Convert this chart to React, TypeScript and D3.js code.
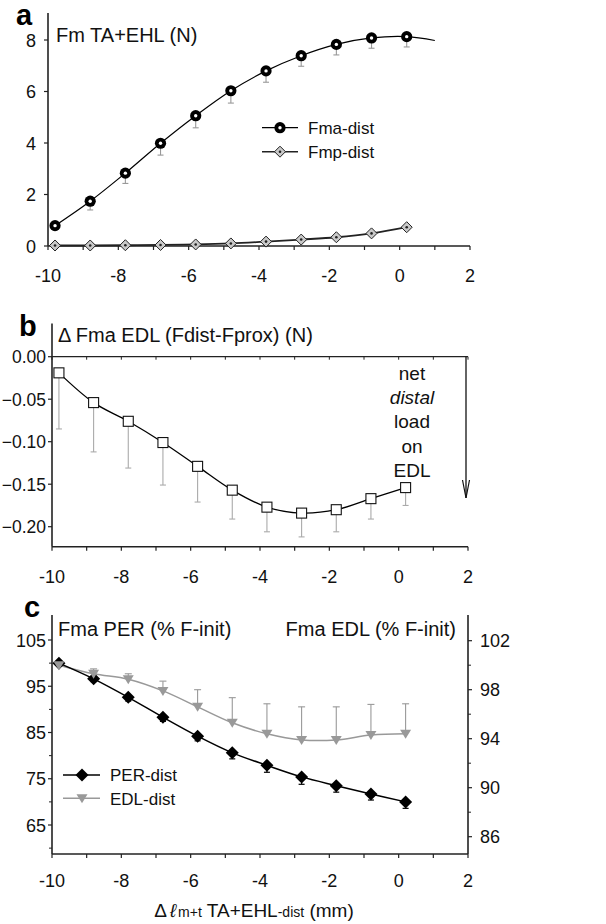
import React from "react";
import * as d3 from "d3";

// ---------- data ----------
const xPos = [-9.8, -8.8, -7.8, -6.8, -5.8, -4.8, -3.8, -2.8, -1.8, -0.8, 0.2];
const xTicks = [-10, -8, -6, -4, -2, 0, 2];
const xMinor = [-10, -9, -8, -7, -6, -5, -4, -3, -2, -1, 0, 1, 2];

// panel a
const fmaDist = [0.79, 1.74, 2.83, 3.99, 5.06, 6.03, 6.8, 7.39, 7.83, 8.08, 8.13];
const fmaErr = [0.12, 0.34, 0.4, 0.46, 0.47, 0.48, 0.44, 0.41, 0.41, 0.4, 0.4];
const fmaTailX = [1.0];
const fmaTailY = [7.98];
const fmpDist = [0.02, 0.02, 0.03, 0.04, 0.06, 0.1, 0.17, 0.25, 0.34, 0.49, 0.73];
const aYTicks = [0, 2, 4, 6, 8];

// panel b
const deltaFma = [-0.019, -0.054, -0.076, -0.101, -0.129, -0.157, -0.177, -0.184, -0.18, -0.167, -0.154];
const deltaErr = [0.066, 0.058, 0.055, 0.05, 0.042, 0.034, 0.029, 0.028, 0.026, 0.024, 0.021];
const bYTicks = [0, -0.05, -0.1, -0.15, -0.2];
const noteLines = ["net", "distal", "load", "on", "EDL"];

// panel c
const perDist = [100.0, 96.6, 92.6, 88.3, 84.2, 80.6, 77.9, 75.4, 73.5, 71.7, 70.0];
const perErr = [0.3, 0.6, 0.8, 0.9, 1.0, 1.3, 1.5, 1.6, 1.4, 1.3, 1.4];
const edlDist = [100.0, 99.3, 98.85, 97.9, 96.6, 95.3, 94.4, 93.9, 93.9, 94.3, 94.4];
const edlErr = [0.1, 0.4, 0.45, 0.8, 1.4, 2.05, 2.45, 2.7, 2.7, 2.5, 2.45];
const cLeftTicks = [105, 95, 85, 75, 65];
const cLeftMinor = [100, 90, 80, 70, 60];
const cRightTicks = [102, 98, 94, 90, 86];
const cRightMinor = [100, 96, 92, 88];

const FONT = "'Liberation Sans', Arial, Helvetica, sans-serif";
const AXIS = "#222";

function XAxis({ x, y, ticks, minor, labelY, fs = 18 }: any) {
  const [r0, r1] = x.range();
  return (
    <g>
      <line x1={r0} x2={r1} y1={y} y2={y} stroke={AXIS} strokeWidth={1.6} />
      {minor.map((t: number) => (
        <line key={"m" + t} x1={x(t)} x2={x(t)} y1={y} y2={y + 4} stroke={AXIS} strokeWidth={1.2} />
      ))}
      {ticks.map((t: number) => (
        <text key={t} x={x(t)} y={labelY} textAnchor="middle" fontSize={fs} fontFamily={FONT} fill="#111">
          {t}
        </text>
      ))}
    </g>
  );
}

export default function App() {
  // ---------- panel a ----------
  const xa = d3.scaleLinear().domain([-10, 2]).range([48, 470]);
  const ya = d3.scaleLinear().domain([0, 8]).range([246, 40]);
  const lineA = d3.line<[number, number]>().x((d) => xa(d[0])).y((d) => ya(d[1])).curve(d3.curveCatmullRom.alpha(0.5));
  const fmaPts: [number, number][] = xPos.map((x, i) => [x, fmaDist[i]] as [number, number]).concat(
    fmaTailX.map((x, i) => [x, fmaTailY[i]] as [number, number])
  );
  const fmpPts: [number, number][] = xPos.map((x, i) => [x, fmpDist[i]]);

  // ---------- panel b ----------
  const xb = d3.scaleLinear().domain([-10, 2]).range([52, 468]);
  const yb = d3.scaleLinear().domain([0, -0.2]).range([356.7, 526.7]);
  const bBottom = yb(-0.2235);
  const bTop = yb(0.039);
  const lineB = d3.line<[number, number]>().x((d) => xb(d[0])).y((d) => yb(d[1])).curve(d3.curveCatmullRom.alpha(0.5));
  const bPts: [number, number][] = xPos.map((x, i) => [x, deltaFma[i]]);

  // ---------- panel c ----------
  const xc = d3.scaleLinear().domain([-10, 2]).range([52, 468]);
  const ycl = d3.scaleLinear().domain([105, 65]).range([640, 825]);
  const ycr = d3.scaleLinear().domain([102, 86]).range([640.7, 836.7]);
  const cBottom = 854;
  const cTop = 615;
  const linePer = d3.line<[number, number]>().x((d) => xc(d[0])).y((d) => ycl(d[1])).curve(d3.curveCatmullRom.alpha(0.5));
  const lineEdl = d3.line<[number, number]>().x((d) => xc(d[0])).y((d) => ycr(d[1])).curve(d3.curveCatmullRom.alpha(0.5));
  const perPts: [number, number][] = xPos.map((x, i) => [x, perDist[i]]);
  const edlPts: [number, number][] = xPos.map((x, i) => [x, edlDist[i]]);

  const circleMarker = (cx: number, cy: number, k: string) => (
    <g key={k}>
      <circle cx={cx} cy={cy} r={5.6} fill="#000" />
      <circle cx={cx} cy={cy} r={1.7} fill="#fff" />
    </g>
  );
  const diamondGray = (cx: number, cy: number, k: string) => (
    <g key={k}>
      <path d={`M${cx},${cy - 5.5}L${cx + 5.5},${cy}L${cx},${cy + 5.5}L${cx - 5.5},${cy}Z`} fill="#c8c8c8" stroke="#222" strokeWidth={1} />
      <circle cx={cx} cy={cy} r={1.3} fill="#222" />
    </g>
  );
  const diamondBlack = (cx: number, cy: number, k: string) => (
    <path key={k} d={`M${cx},${cy - 6.5}L${cx + 6.5},${cy}L${cx},${cy + 6.5}L${cx - 6.5},${cy}Z`} fill="#000" />
  );
  const triGray = (cx: number, cy: number, k: string) => (
    <path key={k} d={`M${cx - 5.5},${cy - 4}L${cx + 5.5},${cy - 4}L${cx},${cy + 5}Z`} fill="#999" />
  );
  const square = (cx: number, cy: number, k: string) => (
    <rect key={k} x={cx - 5} y={cy - 5} width={10} height={10} fill="#fff" stroke="#111" strokeWidth={1.1} />
  );

  return (
    <svg width={606} height={924} style={{ display: "block", position: "absolute", left: 0, top: 0, background: "#fff" }}>
      <rect x={0} y={0} width={606} height={924} fill="#fff" />
      {/* ================= panel a ================= */}
      <text x={16} y={25} fontSize={29} fontWeight="bold" fontFamily={FONT}>a</text>
      <text x={56} y={41.5} fontSize={20} fontFamily={FONT} fill="#111">Fm TA+EHL (N)</text>
      <line x1={xa(-10)} x2={xa(-10)} y1={ya(0)} y2={13} stroke={AXIS} strokeWidth={1.6} />
      {aYTicks.map((t) => (
        <g key={t}>
          <line x1={xa(-10) - 4} x2={xa(-10)} y1={ya(t)} y2={ya(t)} stroke={AXIS} strokeWidth={1.2} />
          <text x={36} y={ya(t) + 6.5} textAnchor="end" fontSize={18} fontFamily={FONT} fill="#111">{t}</text>
        </g>
      ))}
      <XAxis x={xa} y={ya(0)} ticks={xTicks} minor={xMinor} labelY={282} />
      {/* error bars a */}
      {xPos.map((x, i) => (
        <g key={"ea" + i} stroke="#999" strokeWidth={1.1}>
          <line x1={xa(x)} x2={xa(x)} y1={ya(fmaDist[i])} y2={ya(fmaDist[i] - fmaErr[i])} />
          <line x1={xa(x) - 3} x2={xa(x) + 3} y1={ya(fmaDist[i] - fmaErr[i])} y2={ya(fmaDist[i] - fmaErr[i])} />
        </g>
      ))}
      <path d={lineA(fmpPts) || ""} fill="none" stroke="#222" strokeWidth={1.8} />
      <path d={lineA(fmaPts) || ""} fill="none" stroke="#000" strokeWidth={1.2} />
      {fmpPts.map((p, i) => diamondGray(xa(p[0]), ya(p[1]), "dp" + i))}
      {xPos.map((x, i) => circleMarker(xa(x), ya(fmaDist[i]), "ca" + i))}
      {/* legend a */}
      <line x1={262} x2={298} y1={127.7} y2={127.7} stroke="#000" strokeWidth={1.2} />
      {circleMarker(280, 127.7, "lga")}
      <text x={308} y={134} fontSize={17} fontFamily={FONT} fill="#111">Fma-dist</text>
      <line x1={262} x2={298} y1={151.7} y2={151.7} stroke="#222" strokeWidth={1.5} />
      {diamondGray(280, 151.7, "lgb")}
      <text x={308} y={158} fontSize={17} fontFamily={FONT} fill="#111">Fmp-dist</text>

      {/* ================= panel b ================= */}
      <text x={19} y={336} fontSize={29} fontWeight="bold" fontFamily={FONT}>b</text>
      <text x={58} y={342} fontSize={20} fontFamily={FONT} fill="#111">Δ Fma EDL (Fdist-Fprox) (N)</text>
      <line x1={xb(-10)} x2={xb(-10)} y1={bBottom} y2={bTop} stroke={AXIS} strokeWidth={1.6} />
      {bYTicks.map((t) => (
        <g key={t}>
          <line x1={xb(-10) - 4} x2={xb(-10)} y1={yb(t)} y2={yb(t)} stroke={AXIS} strokeWidth={1.2} />
          <text x={46} y={yb(t) + 6.5} textAnchor="end" fontSize={17.5} fontFamily={FONT} fill="#111">
            {d3.format(".2f")(t)}
          </text>
        </g>
      ))}
      {/* zero line */}
      <line x1={xb(-10)} x2={xb(2)} y1={yb(0)} y2={yb(0)} stroke={AXIS} strokeWidth={1.3} />
      {xMinor.map((t) => (
        <line key={"zt" + t} x1={xb(t)} x2={xb(t)} y1={yb(0)} y2={yb(0) + 3} stroke={AXIS} strokeWidth={1} />
      ))}
      <XAxis x={xb} y={bBottom} ticks={xTicks} minor={xMinor} labelY={583} />
      {xPos.map((x, i) => (
        <g key={"eb" + i} stroke="#aaa" strokeWidth={1.1}>
          <line x1={xb(x)} x2={xb(x)} y1={yb(deltaFma[i])} y2={yb(deltaFma[i] - deltaErr[i])} />
          <line x1={xb(x) - 3} x2={xb(x) + 3} y1={yb(deltaFma[i] - deltaErr[i])} y2={yb(deltaFma[i] - deltaErr[i])} />
        </g>
      ))}
      <path d={lineB(bPts) || ""} fill="none" stroke="#000" strokeWidth={1.3} />
      {bPts.map((p, i) => square(xb(p[0]), yb(p[1]), "sq" + i))}
      {/* arrow + note */}
      <line x1={466} x2={466} y1={yb(0)} y2={498} stroke="#111" strokeWidth={1.3} />
      <path d="M462.5,480 L466,498 L469.5,480" fill="none" stroke="#111" strokeWidth={1.2} />
      {noteLines.map((s, i) => (
        <text key={s} x={412} y={380 + i * 24.2} textAnchor="middle" fontSize={19} fontFamily={FONT}
          fontStyle={s === "distal" ? "italic" : "normal"} fill="#111">{s}</text>
      ))}

      {/* ================= panel c ================= */}
      <text x={24} y={617} fontSize={29} fontWeight="bold" fontFamily={FONT}>c</text>
      <text x={58} y={636} fontSize={20} fontFamily={FONT} fill="#111">Fma PER (% F-init)</text>
      <text x={456} y={636} textAnchor="end" fontSize={20} fontFamily={FONT} fill="#111">Fma EDL (% F-init)</text>
      <line x1={xc(-10)} x2={xc(-10)} y1={cBottom} y2={cTop} stroke={AXIS} strokeWidth={1.6} />
      <line x1={xc(2)} x2={xc(2)} y1={cBottom} y2={cTop} stroke={AXIS} strokeWidth={1.6} />
      {cLeftTicks.map((t) => (
        <g key={"cl" + t}>
          <line x1={xc(-10) - 4} x2={xc(-10)} y1={ycl(t)} y2={ycl(t)} stroke={AXIS} strokeWidth={1.2} />
          <text x={46} y={ycl(t) + 6.5} textAnchor="end" fontSize={18} fontFamily={FONT} fill="#111">{t}</text>
        </g>
      ))}
      {cLeftMinor.map((t) => (
        <line key={"clm" + t} x1={xc(-10) - 3} x2={xc(-10)} y1={ycl(t)} y2={ycl(t)} stroke={AXIS} strokeWidth={1} />
      ))}
      {cRightTicks.map((t) => (
        <g key={"cr" + t}>
          <line x1={xc(2)} x2={xc(2) + 4} y1={ycr(t)} y2={ycr(t)} stroke={AXIS} strokeWidth={1.2} />
          <text x={480} y={ycr(t) + 6.5} textAnchor="start" fontSize={18} fontFamily={FONT} fill="#111">{t}</text>
        </g>
      ))}
      {cRightMinor.map((t) => (
        <line key={"crm" + t} x1={xc(2)} x2={xc(2) + 3} y1={ycr(t)} y2={ycr(t)} stroke={AXIS} strokeWidth={1} />
      ))}
      <XAxis x={xc} y={cBottom} ticks={xTicks} minor={xMinor} labelY={887} />
      {/* EDL error bars (up) */}
      {xPos.map((x, i) => (
        <g key={"ee" + i} stroke="#999" strokeWidth={1.1}>
          <line x1={xc(x)} x2={xc(x)} y1={ycr(edlDist[i])} y2={ycr(edlDist[i] + edlErr[i])} />
          <line x1={xc(x) - 3.5} x2={xc(x) + 3.5} y1={ycr(edlDist[i] + edlErr[i])} y2={ycr(edlDist[i] + edlErr[i])} />
        </g>
      ))}
      {/* PER error bars (down) */}
      {xPos.map((x, i) => (
        <g key={"ep" + i} stroke="#000" strokeWidth={1.2}>
          <line x1={xc(x)} x2={xc(x)} y1={ycl(perDist[i])} y2={ycl(perDist[i] - perErr[i])} />
          <line x1={xc(x) - 3} x2={xc(x) + 3} y1={ycl(perDist[i] - perErr[i])} y2={ycl(perDist[i] - perErr[i])} />
        </g>
      ))}
      <path d={lineEdl(edlPts) || ""} fill="none" stroke="#999" strokeWidth={1.5} />
      <path d={linePer(perPts) || ""} fill="none" stroke="#000" strokeWidth={1.5} />
      {perPts.map((p, i) => diamondBlack(xc(p[0]), ycl(p[1]), "pd" + i))}
      {edlPts.map((p, i) => triGray(xc(p[0]), ycr(p[1]), "et" + i))}
      {/* legend c */}
      <line x1={63} x2={100} y1={775} y2={775} stroke="#000" strokeWidth={1.5} />
      {diamondBlack(82, 775, "lgc1")}
      <text x={110} y={781} fontSize={17} fontFamily={FONT} fill="#111">PER-dist</text>
      <line x1={63} x2={100} y1={798.3} y2={798.3} stroke="#999" strokeWidth={1.5} />
      {triGray(82, 798.3, "lgc2")}
      <text x={110} y={804.5} fontSize={17} fontFamily={FONT} fill="#111">EDL-dist</text>
      {/* x title */}
      <text x={254} y={917} textAnchor="middle" fontFamily={FONT} fontSize={19} fill="#111">
        <tspan>Δ</tspan>
        <tspan dx={3} fontStyle="italic">ℓ</tspan>
        <tspan dx={2} fontSize={14}>m+t</tspan>
        <tspan> TA+EHL</tspan>
        <tspan fontSize={14}>-dist</tspan>
        <tspan> (mm)</tspan>
      </text>
    </svg>
  );
}
